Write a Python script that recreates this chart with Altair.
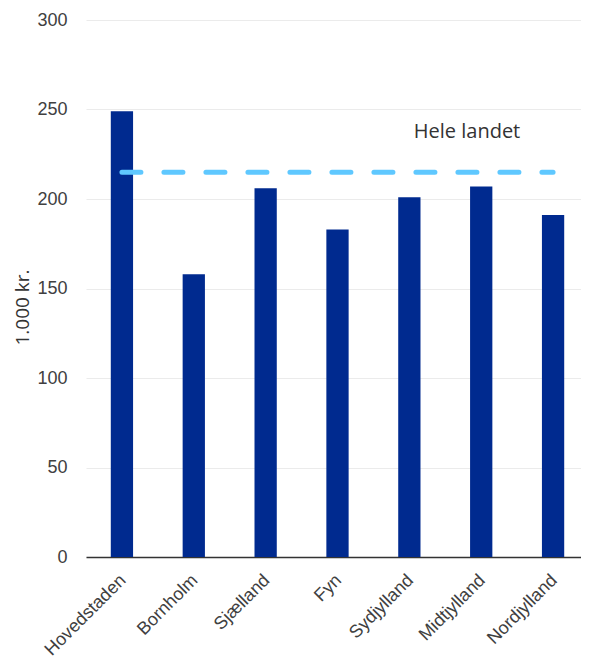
import altair as alt
import pandas as pd

regions = ["Hovedstaden", "Bornholm", "Sjælland", "Fyn", "Sydjylland", "Midtjylland", "Nordjylland"]
values = [249, 158, 206, 183, 201, 207, 191]
national_label = "Hele landet"
national_value = 215
y_ticks = [0, 50, 100, 150, 200, 250, 300]

bars_df = pd.DataFrame({"region": regions, "value": values})
line_df = pd.DataFrame({"region": regions, "avg": [national_value] * len(regions)})
label_df = pd.DataFrame({"label": [national_label], "avg": [national_value]})

x_scale = alt.Scale(domain=regions, range=[0, 503], paddingInner=0.69, paddingOuter=0.345)
y_scale = alt.Scale(domain=[0, 300], nice=False)

bars = alt.Chart(bars_df).mark_bar(color="#002A8F").encode(
    x=alt.X("region:N", scale=x_scale, sort=regions,
            axis=alt.Axis(title=None, labelAngle=-45, labelAlign="right", labelBaseline="top",
                          labelPadding=14, labelOffset=-5, ticks=False, domainColor="#333333",
                          domainWidth=1.5, labelFont="Liberation Sans", labelFontSize=18,
                          labelColor="#404040", grid=False)),
    y=alt.Y("value:Q", scale=y_scale,
            axis=alt.Axis(title="1.000 kr.", values=y_ticks, domain=False, ticks=False,
                          labelPadding=19, labelFont="Liberation Sans", labelFontSize=18,
                          labelColor="#404040", gridColor="#EBEBEB", gridWidth=1,
                          titleFont="Open Sans", titleFontSize=19, titleFontWeight="normal",
                          titleColor="#333333", titleY=287, titlePadding=4)),
)

avg_line = alt.Chart(line_df).mark_line(
    color="#5FC8FF", strokeWidth=5, strokeDash=[19, 23], strokeCap="round"
).encode(
    x=alt.X("region:N", scale=x_scale, sort=regions),
    y=alt.Y("avg:Q", scale=y_scale),
)

avg_text = alt.Chart(label_df).mark_text(
    font="Open Sans", fontSize=20, color="#333333", align="center", baseline="middle", dy=-40
).encode(
    x=alt.value(381),
    y=alt.Y("avg:Q", scale=y_scale),
    text="label:N",
)

chart = alt.layer(bars, avg_line, avg_text).properties(
    width=495, height=537,
    autosize=alt.AutoSizeParams(type="none"),
    padding={"left": 78, "top": 12, "right": 0, "bottom": 102},
).configure_view(strokeWidth=0, stroke="transparent")

chart.save("out.html", embed_options={"renderer": "svg", "actions": False})
